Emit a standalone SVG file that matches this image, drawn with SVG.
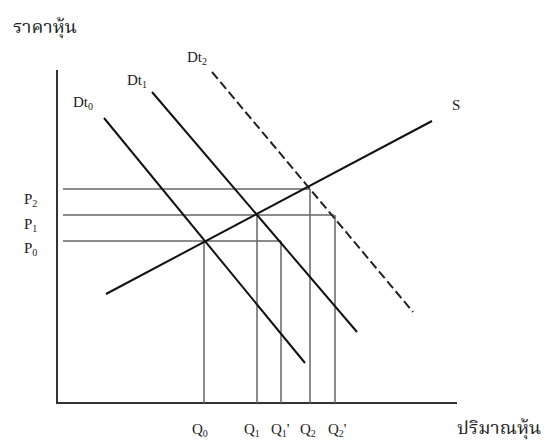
<svg xmlns="http://www.w3.org/2000/svg" width="549" height="443" viewBox="0 0 549 443">
<style>
.t{font-family:"Liberation Serif","Times New Roman",serif;font-size:15px;fill:#222}
.th{font-family:"Noto Serif Thai","Noto Sans Thai","Liberation Serif",serif;font-size:17px;fill:#222}
.sub{font-size:10px}
.ax{stroke:#333;stroke-width:2;fill:none}
.gl{stroke:#666;stroke-width:1.5;fill:none}
.dl{stroke:#111;stroke-width:2;fill:none}
.dash{stroke:#222;stroke-width:2;fill:none;stroke-dasharray:9 4}
</style>
<rect width="549" height="443" fill="#fff"/>
<g id="axes">
<line class="ax" x1="57" y1="70" x2="57" y2="404"/>
<line class="ax" x1="56" y1="403" x2="457" y2="403"/>
<text class="th" x="13" y="33" textLength="64" lengthAdjust="spacingAndGlyphs">ราคาหุ้น</text>
<text class="th" x="457" y="434" textLength="84" lengthAdjust="spacingAndGlyphs">ปริมาณหุ้น</text>
</g>
<g id="connectors">
<line class="gl" x1="63" y1="189" x2="310" y2="189"/>
<line class="gl" x1="63" y1="215" x2="334" y2="215"/>
<line class="gl" x1="63" y1="241" x2="281" y2="241"/>
<line class="gl" x1="204" y1="241" x2="204" y2="403"/>
<line class="gl" x1="257" y1="215" x2="257" y2="403"/>
<line class="gl" x1="281" y1="241" x2="281" y2="403"/>
<line class="gl" x1="310" y1="189" x2="310" y2="403"/>
<line class="gl" x1="335" y1="215" x2="335" y2="403"/>
</g>
<g id="S">
<line class="dl" x1="106" y1="294" x2="432" y2="121"/>
<text class="t" x="452" y="110">S</text>
</g>
<g id="Dt0">
<line class="dl" x1="104" y1="118" x2="305" y2="363"/>
<text class="t" x="73" y="107">Dt<tspan class="sub" dy="3">0</tspan></text>
</g>
<g id="Dt1">
<line class="dl" x1="152" y1="92" x2="357" y2="332"/>
<text class="t" x="127" y="85">Dt<tspan class="sub" dy="3">1</tspan></text>
</g>
<g id="Dt2">
<line class="dash" x1="212" y1="72" x2="413" y2="312"/>
<text class="t" x="187" y="62">Dt<tspan class="sub" dy="3">2</tspan></text>
</g>
<g id="labels">
<text class="t" x="24" y="204">P<tspan class="sub" dy="3">2</tspan></text>
<text class="t" x="24" y="229">P<tspan class="sub" dy="3">1</tspan></text>
<text class="t" x="24" y="253">P<tspan class="sub" dy="3">0</tspan></text>
<text class="t" x="192" y="434">Q<tspan class="sub" dy="3">0</tspan></text>
<text class="t" x="244" y="434">Q<tspan class="sub" dy="3">1</tspan></text>
<text class="t" x="271" y="434">Q<tspan class="sub" dy="3">1</tspan><tspan dy="-3">'</tspan></text>
<text class="t" x="300" y="434">Q<tspan class="sub" dy="3">2</tspan></text>
<text class="t" x="328" y="434">Q<tspan class="sub" dy="3">2</tspan><tspan dy="-3">'</tspan></text>
</g>
</svg>
